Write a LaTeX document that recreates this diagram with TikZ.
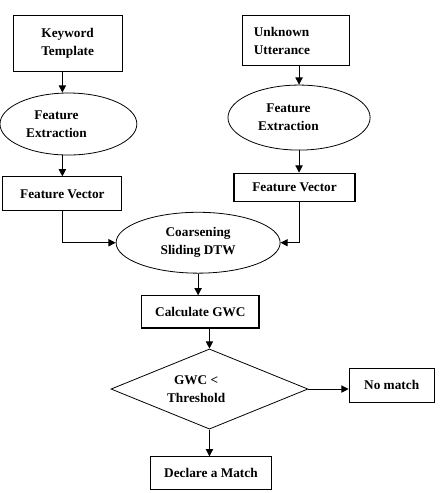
\documentclass[tikz,border=0pt]{standalone}
\usepackage{fontspec}
\setmainfont{Liberation Serif}
\usetikzlibrary{arrows.meta,positioning,shapes.geometric}

\begin{document}
\begin{tikzpicture}[
    box/.style={rectangle, draw, line width=0.8pt, align=center, inner sep=2pt, font=\bfseries\fontsize{10}{13.5}\selectfont},
    oval/.style={ellipse, draw, line width=0.6pt, align=center, inner sep=1pt, font=\bfseries\fontsize{10}{13.5}\selectfont},
    decision/.style={diamond, draw, line width=0.6pt, aspect=2.5, align=center, inner sep=1pt, font=\bfseries\fontsize{10}{13.5}\selectfont},
    arrow/.style={-{Triangle[length=1.9mm, width=1.9mm]}, line width=0.8pt}
]
\useasboundingbox (0,0) rectangle (11.69,-13.04);
% left branch
\node[box, minimum width=2.88cm, minimum height=1.46cm] (kwt) at (1.79,-1.15) {Keyword\\Template};
\node[oval, minimum width=3.62cm, minimum height=1.64cm] (fe1) at (1.81,-3.28) {Feature\hspace*{18pt}\\Extraction\hspace*{18pt}};
\node[box, minimum width=3.15cm, minimum height=0.90cm] (fv1) at (1.65,-5.13) {Feature Vector};
% right branch
\node[box, minimum width=2.83cm, minimum height=1.32cm, align=left, text width=2.25cm, inner xsep=8.25pt] (uu) at (7.84,-1.08) {Unknown\\Utterance};
\node[oval, minimum width=3.76cm, minimum height=1.72cm] (fe2) at (7.91,-3.11) {Feature\hspace*{16pt}\\Extraction\hspace*{16pt}};
\node[box, minimum width=3.20cm, minimum height=0.74cm] (fv2) at (7.79,-4.95) {Feature Vector};
% matching
\node[oval, minimum width=4.34cm, minimum height=1.61cm] (dtw) at (5.24,-6.42) {Coarsening\\Sliding DTW};
\node[box, minimum width=3.10cm, minimum height=0.85cm] (gwc) at (5.30,-8.25) {Calculate GWC};
\node[decision, minimum width=5.21cm, minimum height=2.12cm] (thr) at (5.54,-10.29) {GWC <\hspace*{20pt}\\Threshold\hspace*{20pt}};
\node[box, minimum width=2.25cm, minimum height=0.90cm] (nom) at (10.36,-10.19) {No match};
\node[box, minimum width=3.18cm, minimum height=0.85cm] (dam) at (5.58,-12.51) {Declare a Match};

\draw[arrow] (kwt.south -| fv1) -- (fv1 |- fe1.north);
\draw[arrow] (fv1 |- fe1.south) -- (fv1.north);
\draw[arrow] (fv1.south) |- (dtw.west);
\draw[arrow] (uu.south -| fe2) -- (fe2.north);
\draw[arrow] (fe2.south) -- (fe2.south |- fv2.north);
\draw[arrow] (fv2.south -| fe2) |- (dtw.east);
\draw[arrow] (dtw.south) -- (dtw.south |- gwc.north);
\draw[arrow] (gwc.south -| thr) -- (thr.north);
\draw[arrow] (thr.east) -- (thr.east -| nom.west);
\draw[arrow] (thr.south) -- (thr.south |- dam.north);
\end{tikzpicture}
\end{document}
